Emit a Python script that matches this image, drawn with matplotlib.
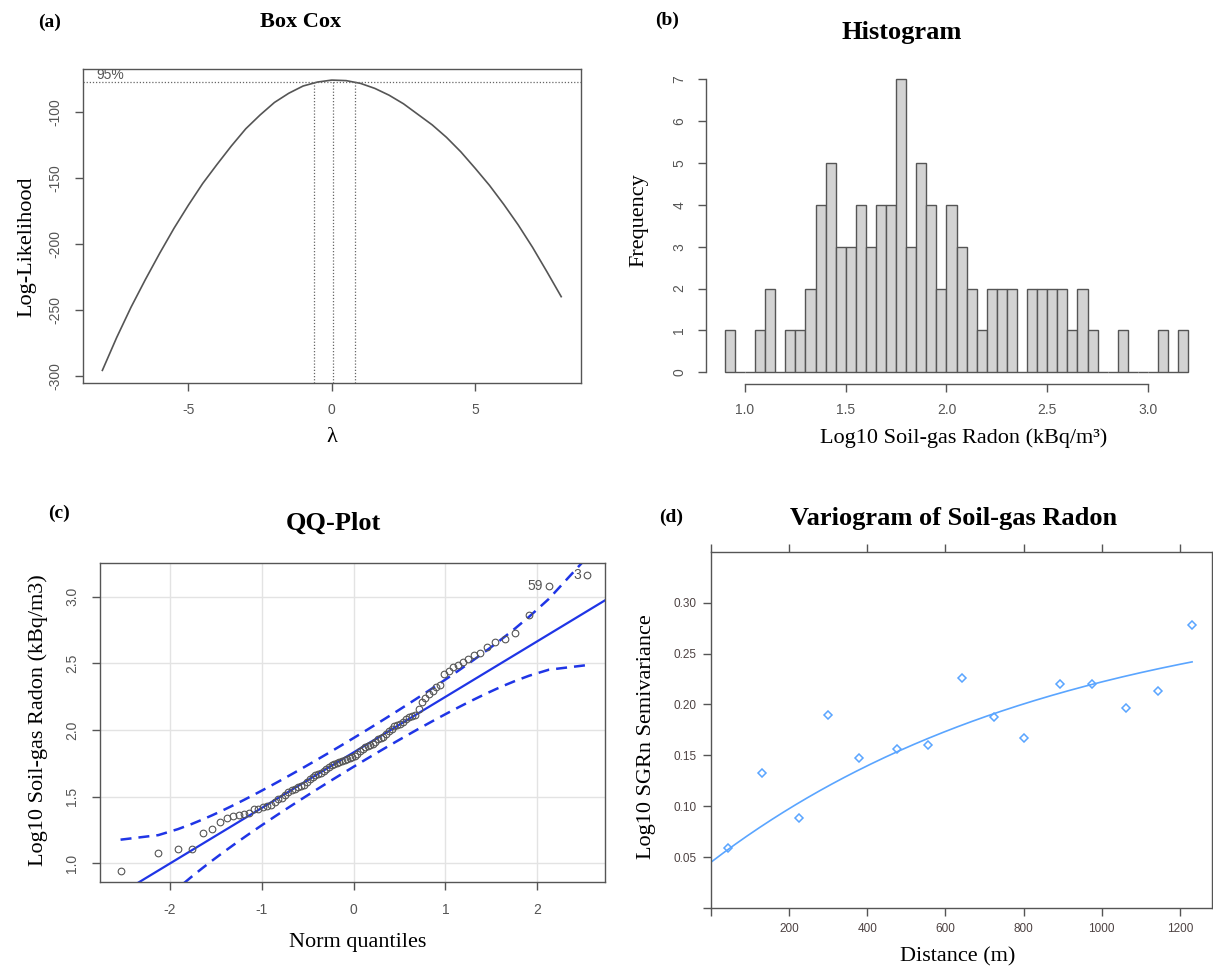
import matplotlib
matplotlib.use("Agg")
import matplotlib.pyplot as plt
import numpy as np
from statistics import NormalDist

plt.rcParams["axes.unicode_minus"] = False

# ---- (a) Box-Cox profile log-likelihood
bc_lambda = [-8, -7.5, -7, -6.5, -6, -5.5, -5, -4.5, -4, -3.5, -3, -2.5, -2, -1.5, -1, -0.5,
             0, 0.5, 1, 1.5, 2, 2.5, 3, 3.5, 4, 4.5, 5, 5.5, 6, 6.5, 7, 7.5, 8]
bc_loglik = [-296, -271, -248, -227, -207, -188, -170.5, -154, -139.5, -125.5, -112.5, -102,
             -92.5, -85.5, -80, -77, -75.5, -75.9, -78, -81.8, -87, -93.5, -101.5, -109.5,
             -119, -130, -142.5, -155.5, -170, -185.5, -202.5, -221, -240]
bc_ci = [-0.63, 0.8]      # 95% interval for lambda
bc_best = 0.05
bc_lim = -77.3            # 95% line

# ---- (b), (c) log10 soil-gas radon (kBq/m3), sorted
radon = [0.94, 1.075, 1.105, 1.11, 1.225, 1.26, 1.31, 1.34, 1.355, 1.365, 1.37, 1.375,
         1.405, 1.41, 1.42, 1.43, 1.44, 1.46, 1.48, 1.49, 1.515, 1.535, 1.548,
         1.56, 1.57, 1.58, 1.59, 1.61, 1.63, 1.645, 1.66, 1.67, 1.68, 1.695,
         1.71, 1.72, 1.735, 1.745, 1.755, 1.76, 1.77, 1.775, 1.78, 1.79, 1.795,
         1.805, 1.82, 1.84, 1.86, 1.875, 1.88, 1.89, 1.895, 1.91, 1.93, 1.94, 1.945,
         1.97, 1.99, 2.01, 2.03, 2.04, 2.045, 2.06, 2.08, 2.095, 2.105, 2.115, 2.16,
         2.21, 2.24, 2.27, 2.29, 2.32, 2.34, 2.42, 2.44, 2.47, 2.49, 2.51, 2.53,
         2.56, 2.58, 2.62, 2.66, 2.68, 2.73, 2.86, 3.08, 3.16]
hist_breaks = np.linspace(0.9, 3.2, 47)
qq_ids = ["59", "3"]      # labels of the two largest values

# ---- (d) sample variogram and fitted exponential model
vg_dist = [43, 131, 224, 300, 379, 475, 554, 642, 723, 801, 894, 975, 1062, 1143, 1231]
vg_gamma = [0.059, 0.133, 0.088, 0.190, 0.147, 0.156, 0.160, 0.226, 0.188, 0.167,
            0.220, 0.220, 0.196, 0.213, 0.278]
vg_nugget, vg_psill, vg_range = 0.045, 0.264, 900

W, H = 1213, 968
serif = "Liberation Serif"
sans = "Liberation Sans"
axcol = "#555555"
tickcol = "#555555"

fig = plt.figure(figsize=(W / 100, H / 100), dpi=100)


def box(l, t, r, b):
    return [l / W, 1 - b / H, (r - l) / W, (b - t) / H]


def ftext(x, y, s, **kw):
    kw.setdefault("family", serif)
    fig.text(x / W, 1 - y / H, s, ha="center", va="center", **kw)


def r_style(ax, pad=9, rot=True, size=10, col=tickcol):
    for sp in ax.spines.values():
        sp.set_color(axcol)
        sp.set_linewidth(1)
    ax.tick_params(direction="out", length=6, width=1, color=axcol, labelcolor=col,
                   labelsize=size, pad=pad)
    for lbl in ax.get_xticklabels() + ax.get_yticklabels():
        lbl.set_family(sans)
    if rot:
        ax.tick_params(axis="y", labelrotation=90)
        for lbl in ax.get_yticklabels():
            lbl.set_va("center")


# (a) Box Cox
ax = fig.add_axes(box(83, 68.5, 581, 382.5))
ax.plot(bc_lambda, bc_loglik, color="#555555", lw=1.2)
ax.set_xlim(-8.675, 8.69)
ax.set_ylim(-305.2, -66.7)
ax.axhline(bc_lim, ls=(0, (1, 1.5)), color="#666666", lw=0.9)
ax.vlines(bc_ci, -305.2, bc_lim, ls=(0, (1, 1.5)), color="#666666", lw=0.9)
ax.vlines(bc_best, -305.2, max(bc_loglik), ls=(0, (1, 1.5)), color="#666666", lw=0.9)
ax.text(-8.2, bc_lim + 0.6, "95%", family=sans, fontsize=10, color="#555555",
        ha="left", va="bottom")
ax.set_xticks([-5, 0, 5])
ax.set_yticks([-300, -250, -200, -150, -100])
r_style(ax)
ftext(50, 22, "(a)", fontsize=14, weight="bold")
ftext(301, 22, "Box Cox", fontsize=16, weight="bold")
ftext(27, 247, "Log-Likelihood", fontsize=16, rotation=90)
ftext(332, 438, "λ", fontsize=16)

# (b) Histogram
ax = fig.add_axes(box(705.7, 67, 1207, 384))
ax.hist(radon, bins=hist_breaks, color="#d3d3d3", edgecolor="#555555", lw=1)
ax.set_xlim(0.805, 3.293)
ax.set_ylim(-0.28, 7.29)
ax.spines["top"].set_visible(False)
ax.spines["right"].set_visible(False)
ax.spines["left"].set_bounds(0, 7)
ax.spines["bottom"].set_bounds(1, 3)
ax.set_xticks([1.0, 1.5, 2.0, 2.5, 3.0])
ax.set_yticks(range(8))
r_style(ax, pad=8)
ftext(667, 20, "(b)", fontsize=14, weight="bold")
ftext(902, 33, "Histogram", fontsize=19, weight="bold")
ftext(639, 220, "Frequency", fontsize=16, rotation=90)
ftext(964, 438, "Log10 Soil-gas Radon (kBq/m³)", fontsize=16)

# (c) QQ plot with quartile line and 95% pointwise envelope
y = np.sort(np.array(radon))
n = len(y)
P = (np.arange(1, n + 1) - 0.5) / n
nd = NormalDist()
z = np.array([nd.inv_cdf(p) for p in P])
qx = np.quantile(y, [0.25, 0.75])
qz = np.array([nd.inv_cdf(0.25), nd.inv_cdf(0.75)])
b = (qx[1] - qx[0]) / (qz[1] - qz[0])
a = qx[0] - b * qz[0]
dens = np.array([nd.pdf(v) for v in z])
se = b / dens * np.sqrt(P * (1 - P) / n)
fit = a + b * z
zz = nd.inv_cdf(0.975)

ax = fig.add_axes(box(100.3, 563.3, 605, 882))
ax.set_xlim(-2.76, 2.74)
ax.set_ylim(0.86, 3.25)
ax.set_xticks([-2, -1, 0, 1, 2])
ax.set_yticks([1.0, 1.5, 2.0, 2.5, 3.0])
ax.grid(True, color="#e3e3e3", lw=1)
ax.set_axisbelow(True)
blue = "#1f35e6"
xx = np.array([-2.76, 2.74])
ax.plot(xx, a + b * xx, color=blue, lw=1.6)
ax.plot(z, fit + zz * se, color=blue, lw=1.8, ls=(0, (4.4, 2.8)))
ax.plot(z, fit - zz * se, color=blue, lw=1.8, ls=(0, (4.4, 2.8)))
ax.plot(z, y, ls="none", marker="o", ms=4.8, mfc="none", mec="#555555", mew=0.8)
for lab, zi, yi in zip(qq_ids, z[-2:], y[-2:]):
    ax.annotate(lab, (zi, yi), xytext=(-4, 0), textcoords="offset points",
                ha="right", va="center", family=sans, fontsize=10, color="#555555")
r_style(ax)
ftext(59, 513, "(c)", fontsize=14, weight="bold")
ftext(333, 523, "QQ-Plot", fontsize=19, weight="bold")
ftext(38, 720, "Log10 Soil-gas Radon (kBq/m3)", fontsize=16, rotation=90)
ftext(358, 943, "Norm quantiles", fontsize=16)

# (d) Variogram
vcol = "#5aa5ff"
ax = fig.add_axes(box(711, 551.7, 1212, 908))
h = np.linspace(0, max(vg_dist), 200)
ax.plot(h, vg_nugget + vg_psill * (1 - np.exp(-h / vg_range)), color=vcol, lw=1.2)
ax.plot(vg_dist, vg_gamma, ls="none", marker="D", ms=4, mfc="none", mec=vcol, mew=1.1)
ax.set_xlim(0, 1282)
ax.set_ylim(0, 0.35)
ax.set_xticks([0, 200, 400, 600, 800, 1000, 1200])
ax.set_xticklabels(["", "200", "400", "600", "800", "1000", "1200"])
ax.set_yticks([0, 0.05, 0.10, 0.15, 0.20, 0.25, 0.30])
ax.set_yticklabels(["", "0.05", "0.10", "0.15", "0.20", "0.25", "0.30"])
r_style(ax, pad=5, rot=False, size=8.5, col="#4d4242")
ax.tick_params(top=True, length=5.5)
ftext(671, 517, "(d)", fontsize=14, weight="bold")
ftext(954, 518, "Variogram of Soil-gas Radon", fontsize=19, weight="bold")
ftext(646, 737, "Log10 SGRn Semivariance", fontsize=16, rotation=90)
ftext(958, 957, "Distance (m)", fontsize=16)

fig.savefig("out.png", dpi=100)
